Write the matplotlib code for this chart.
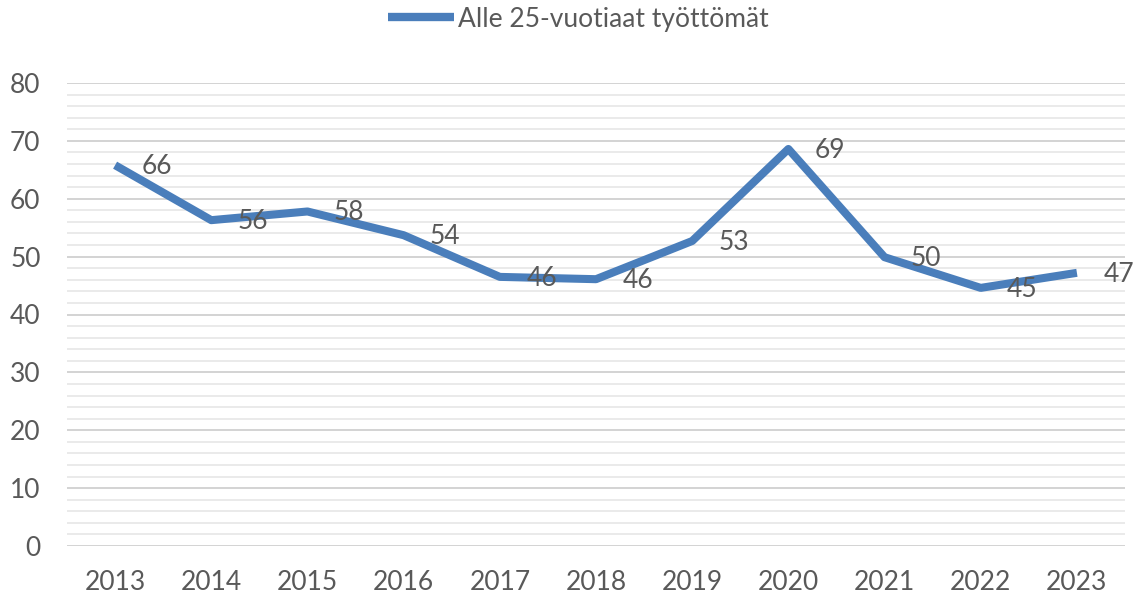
import matplotlib
matplotlib.use("Agg")
import matplotlib.pyplot as plt
from matplotlib.ticker import MultipleLocator

years = ["2013", "2014", "2015", "2016", "2017", "2018", "2019", "2020", "2021", "2022", "2023"]
values = [65.8, 56.3, 57.8, 53.7, 46.5, 46.1, 52.7, 68.6, 49.9, 44.6, 47.2]
labels = ["66", "56", "58", "54", "46", "46", "53", "69", "50", "45", "47"]
series_name = "Alle 25-vuotiaat työttömät"

plt.rcParams['font.family'] = ['Lato', 'DejaVu Sans']
grey = '#595959'
color = '#4a7ebb'
fs = 19

fig = plt.figure(figsize=(11.38, 5.97), dpi=100)
ax = fig.add_axes([67/1138, 1-546/597, 1058/1138, (546-83)/597])

x = list(range(len(years)))
ax.plot(x, values, color=color, lw=5.8, solid_capstyle='butt', solid_joinstyle='round',
        label=series_name, zorder=3)
for xi, v, lab in zip(x, values, labels):
    ax.annotate(lab, (xi, v), xytext=(19, -1), textcoords='offset points',
                ha='left', va='center', fontsize=fs, color=grey, zorder=4)

ax.set_xlim(-0.5, len(years) - 0.5)
ax.set_ylim(0, 80)
ax.yaxis.set_major_locator(MultipleLocator(10))
ax.yaxis.set_minor_locator(MultipleLocator(2))
ax.set_xticks(x)
ax.set_xticklabels(years)
ax.grid(which='major', axis='y', color='#d0d0d0', lw=1.3, zorder=0)
ax.grid(which='minor', axis='y', color='#e8e8e8', lw=1.3, zorder=0)
ax.tick_params(axis='both', which='both', length=0, labelsize=fs, labelcolor=grey)
ax.tick_params(axis='x', pad=17)
ax.tick_params(axis='y', pad=19)
for s in ax.spines.values():
    s.set_visible(False)
ax.set_axisbelow(True)

leg = fig.legend(loc='center', bbox_to_anchor=(578/1138, 1-19/597), frameon=False,
                 fontsize=fs, handlelength=2.5, handletextpad=0.15)
for t in leg.get_texts():
    t.set_color(grey)
for h in leg.get_lines():
    h.set_linewidth(6)

fig.savefig("out.png", dpi=100)
